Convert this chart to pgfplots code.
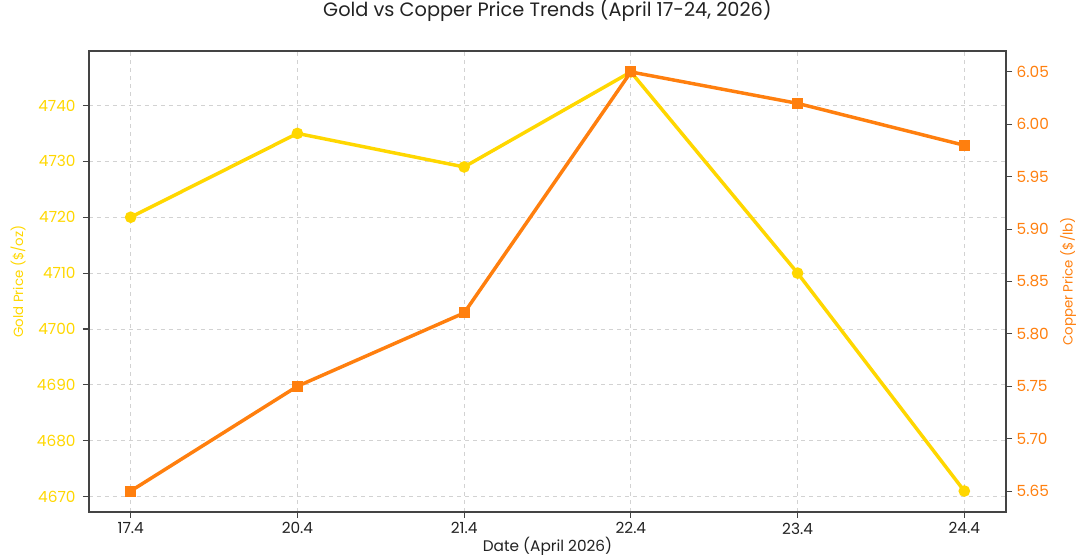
\documentclass[border=0pt]{standalone}
\usepackage{fontspec}
\setmainfont{Poppins}
\usepackage{pgfplots}
\pgfplotsset{compat=1.18}
\definecolor{goldc}{HTML}{FFD700}
\definecolor{copperc}{HTML}{FF7F0E}
\definecolor{spine}{HTML}{444444}
\definecolor{txt}{HTML}{222222}
\begin{document}
\begin{tikzpicture}
\pgfplotsset{
 common/.style={
  scale only axis, width=687.75pt, height=345.75pt,
  xmin=-0.25, xmax=5.25,
  tick align=outside,
  major tick length=4.5pt,
  /pgf/number format/assume math mode=true,
  axis line style={spine, line width=1pt},
  tick style={spine, line width=0.8pt},
  ticklabel style={font=\fontsize{11.5}{13}\selectfont},
  ylabel style={font=\fontsize{10}{12}\selectfont},
  xlabel style={font=\fontsize{11.5}{13}\selectfont},
 }
}
\begin{axis}[common, name=ax,
  ymin=4667.25, ymax=4749.75,
  xtick={0,1,2,3,4,5},
  xticklabels={17.4,20.4,21.4,22.4,23.4,24.4},
  xtick pos=lower, ytick pos=left,
  ytick={4670,4680,4690,4700,4710,4720,4730,4740},
  /pgf/number format/1000 sep={},
  xticklabel style={text=txt},
  yticklabel style={text=goldc, xshift=-2pt},
  xmajorgrids, ymajorgrids,
  major grid style={dashed, gray!35, line width=0.6pt},
  xlabel={Date (April 2026)},
  xlabel style={text=txt, at={(axis description cs:0.5,-0.0738)}, anchor=center},
  ylabel={Gold Price (\$/oz)},
  ylabel style={text=goldc, at={(axis description cs:-0.0774,0.5)}, anchor=center},
  title={Gold vs Copper Price Trends (April 17-24, 2026)},
  title style={text=txt, font=\fontsize{14.5}{16}\selectfont, at={(axis description cs:0.5,1.0716)}, anchor=center},
]
\addplot[goldc, line width=2.6pt, mark=*, mark size=3pt, mark options={solid}] coordinates {(0,4720)(1,4735)(2,4729)(3,4746)(4,4710)(5,4671)};
\end{axis}
\begin{axis}[common,
  ymin=5.63, ymax=6.07,
  axis x line=none, axis y line*=right,
  ytick={5.65,5.70,5.75,5.80,5.85,5.90,5.95,6.00,6.05},
  yticklabel style={text=copperc, /pgf/number format/.cd, fixed, fixed zerofill, precision=2},
  ylabel={Copper Price (\$/lb)},
  ylabel style={text=copperc, at={(axis description cs:1.0676,0.5)}, anchor=center},
]
\addplot[copperc, line width=2.6pt, mark=square*, mark size=2.8pt, mark options={solid}] coordinates {(0,5.65)(1,5.75)(2,5.82)(3,6.05)(4,6.02)(5,5.98)};
\end{axis}
\pgfresetboundingbox
\path ([shift={(-66.75pt,-32.25pt)}]ax.south west) rectangle ([shift={(55.5pt,38.25pt)}]ax.north east);
\end{tikzpicture}
\end{document}
